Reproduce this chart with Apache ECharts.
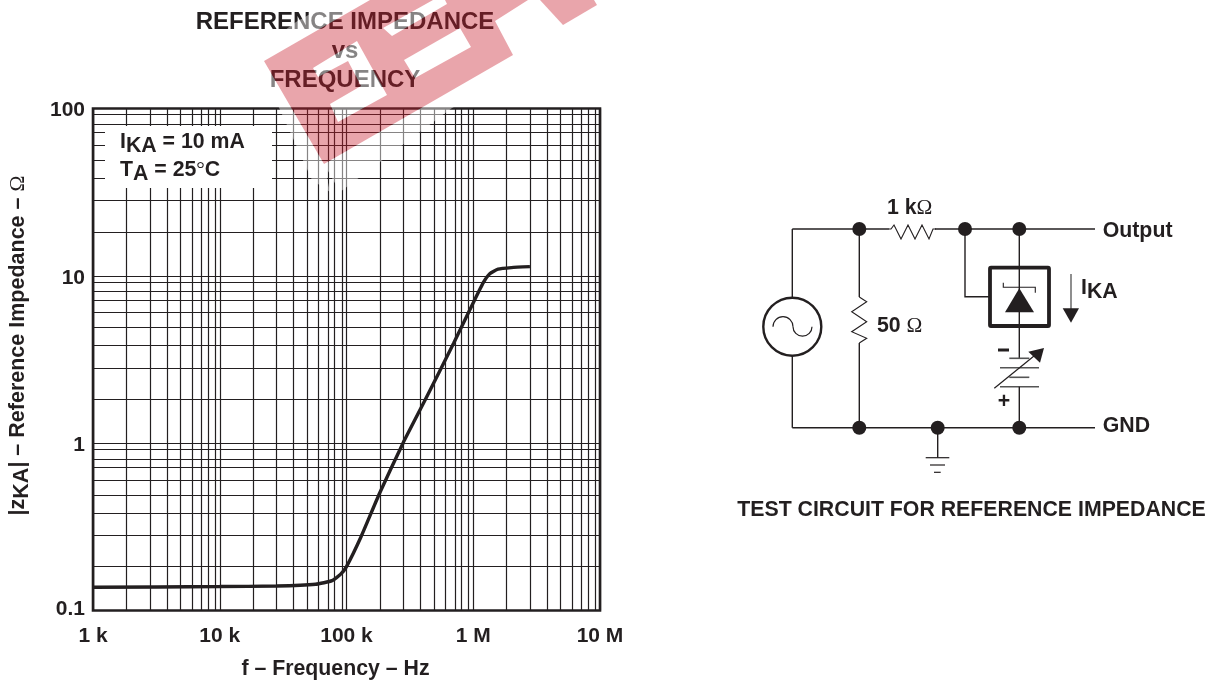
<!DOCTYPE html>
<html><head><meta charset="utf-8">
<style>html,body{margin:0;padding:0;background:#fff}#c{width:1214px;height:682px}</style>
<script src="https://cdn.jsdelivr.net/npm/echarts@6/dist/echarts.min.js"></script>
</head><body><div id="c"></div>
<script>
// ---- data ----
const frequencyHz = [1000,10000,28000,57000,77000,90000,100000,130000,182000,279000,417000,700000,1000000,1200000,1350000,1570000,2000000,2800000];
const impedanceOhm = [0.1376,0.139,0.14,0.1434,0.1507,0.165,0.183,0.275,0.5,1,1.81,3.95,6.9,9.1,10.3,10.96,11.2,11.35];
const xDecades = [1000,10000,100000,1000000];
const yDecades = [0.1,1,10];
const gridSteps = [1.83,2.81,3.83,4.9,6.02,7.17,8.06,9.2];
const xTickLabels = {1000:'1 k',10000:'10 k',100000:'100 k',1000000:'1 M',10000000:'10 M'};
const yTickLabels = {0.1:'{low|0.1}',1:'1',10:'10',100:'100'};
const titleLines = ['REFERENCE IMPEDANCE','vs','FREQUENCY'];

// ---- styling ----
const FONT = '"Liberation Sans", Arial, sans-serif';
const INK = '#231f20';
const minorX = xDecades.flatMap(d => gridSteps.map(s => ({xAxis: d*s})));
const minorY = yDecades.flatMap(d => gridSteps.map(s => ({yAxis: d*s})));

const SIZE = 21.3;
const txt = (x,y,text,o={}) => ({type:'text',x,y,z:o.z||20,style:Object.assign({
  text,fill:INK,font:`bold ${o.size||SIZE}px ${FONT}`,align:o.align||'left',verticalAlign:'middle'},o.style||{})});
const makeRich = size => ({
  b:{fontFamily:'Liberation Sans',fontWeight:'bold',fontSize:size,color:INK},
  s:{fontFamily:'Liberation Sans',fontWeight:'bold',fontSize:size,color:INK,verticalAlign:'bottom',padding:[8,0,0,0]},
  o:{fontFamily:'Liberation Serif',fontWeight:'normal',fontSize:size,color:INK}
});
const subRich = makeRich(SIZE);
const richTxt = (x,y,text,rich) => ({type:'text',x,y,z:20,style:{text,rich,align:'left',verticalAlign:'middle',fill:INK,font:`bold ${SIZE}px ${FONT}`}});
const W = 1.4;
const line = (a,b,c,d,w,col) => ({type:'line',z:20,shape:{x1:a,y1:b,x2:c,y2:d},style:{stroke:col||INK,lineWidth:w||W}});
const poly = (pts,w) => ({type:'polyline',z:20,shape:{points:pts},style:{stroke:INK,lineWidth:w||W,fill:null,lineJoin:'miter'}});
const tri = pts => ({type:'polygon',z:20,shape:{points:pts},style:{fill:INK,stroke:null}});
const dot = (x,y) => ({type:'circle',z:21,shape:{cx:x,cy:y,r:7},style:{fill:INK}});

const circuit = [
  line(792.3,229,1095,229), line(792.3,427.7,1095,427.7),
  line(792.3,229,792.3,297.7), line(792.3,355.7,792.3,427.7),
  {type:'circle',z:20,shape:{cx:792.3,cy:326.7,r:29},style:{fill:'#fff',stroke:INK,lineWidth:2.4}},
  {type:'arc',z:21,shape:{cx:783,cy:326.7,r:10,startAngle:Math.PI,endAngle:2*Math.PI,clockwise:true},style:{stroke:INK,lineWidth:1.2,fill:null}},
  {type:'arc',z:21,shape:{cx:802.5,cy:326.7,r:9.5,startAngle:0,endAngle:Math.PI,clockwise:true},style:{stroke:INK,lineWidth:1.2,fill:null}},
  // series resistor
  {type:'rect',z:20,shape:{x:889,y:222,width:46,height:18},style:{fill:'#fff'}},
  {type:'polyline',z:21,shape:{points:[[889,229],[891,229],[894,225],[901,239],[908,225],[915,239],[922,225],[929,239],[933,229],[936,229]]},style:{stroke:INK,lineWidth:1.1,fill:null}},
  // shunt resistor
  line(859.3,229,859.3,297), line(859.3,343,859.3,427.7),
  {type:'polyline',z:21,shape:{points:[[859.3,297],[866.7,301.7],[851.7,311.7],[866.7,321.7],[851.7,331.7],[866.7,338.3],[859.3,343]]},style:{stroke:INK,lineWidth:1.1,fill:null}},
  // reference pin
  poly([[965,229],[965,296.7],[990,296.7]]),
  // device
  line(1019.3,229,1019.3,358.3),
  {type:'rect',z:20,shape:{x:990,y:267.7,width:59,height:58.3,r:1},style:{fill:null,stroke:INK,lineWidth:3.8}},
  tri([[1019.3,288.3],[1034,312.3],[1005,312.3]]),
  poly([[1003.3,282.7],[1003.3,287.3],[1035.3,287.3],[1035.3,292.7]],1.1),
  // battery
  line(1009.3,358.3,1029.3,358.3,1.6,'#555'), line(1000,367.7,1039,367.7,1.6,'#555'),
  line(1009.3,377.3,1029.3,377.3,1.6,'#555'), line(1000,386.7,1039,386.7,1.6,'#555'),
  line(1019.3,386.7,1019.3,427.7),
  line(994.3,388.3,1034,356,1.2),
  tri([[1044,348],[1028.3,351.7],[1040,362.7]]),
  line(998,350,1009,350,3),
  txt(1004,402,'+',{size:SIZE,align:'center'}),
  // current arrow
  line(1071,274,1071,310,1.2,'#444'),
  tri([[1062.7,308.3],[1079,308.3],[1071,322.7]]),
  // ground
  line(937.7,427.7,937.7,457.7),
  line(925.7,457.7,949.3,457.7,1.2), line(930,465,945,465,1.2), line(934,472.3,940.7,472.3,1.2),
  ...[[859.3,229],[965,229],[1019.3,229],[859.3,427.7],[937.7,427.7],[1019.3,427.7]].map(p=>dot(p[0],p[1])),
  richTxt(887,208,'{b|1 k}{o|Ω}',subRich),
  richTxt(877,326,'{b|50 }{o|Ω}',subRich),
  txt(1102.7,231,'Output'),
  txt(1102.7,426,'GND'),
  richTxt(1081,288,'{b|I}{s|KA}',subRich),
  txt(971.5,510,'TEST CIRCUIT FOR REFERENCE IMPEDANCE',{align:'center'})
];

const legendBox = [
  {type:'rect',z:15,shape:{x:105,y:126,width:167,height:62},style:{fill:'#fff'}},
  richTxt(120,142,'{b|I}{s|KA}{b| = 10 mA}',subRich),
  richTxt(120,170,'{b|T}{s|A}{b| = 25}{o|°}{b|C}',subRich)
];

// watermark: translucent logo with a faint white halo around it
const RED = 'rgba(200,30,45,0.4)', HALO='rgba(255,255,255,0.45)', HOLE='rgba(255,255,255,0.45)';
const wm = (pts,fill) => ({type:'polygon',z:100,silent:true,shape:{points:pts},style:{fill}});
const watermark = [
  wm([[296,22],[335,0],[370,0],[264,61],[258,50]],HALO),
  wm([[255,55],[264,61],[324,164],[330,192],[312,180]],HALO),
  wm([[324,164],[513,55],[540,62],[452,108],[340,192]],HALO),
  wm([[313,68],[318,77],[348,61],[361,86],[330,104],[338,122],[387,95],[357,41]],HOLE),
  wm([[404,60],[415,78],[471,47],[460,28]],HOLE),
  wm([[383,28],[392,36],[447,4],[445,0],[433,0]],HOLE),
  wm([[264,61],[313,68],[318,77],[348,61],[361,86],[330,104],[338,122],[387,95],[357,41],[313,68],[264,61],
      [370,0],[433,0],[383,28],[392,36],[447,4],[445,0],[528,0],[495,21],[513,55],
      [471,47],[460,28],[404,60],[415,78],[471,47],[513,55],[324,164]],RED),
  wm([[540,0],[563,25],[597,5],[594,0]],RED)
];

const chart = echarts.init(document.getElementById('c'),null,{renderer:'canvas'});
chart.setOption({
  animation:false,
  backgroundColor:'#fff',
  textStyle:{fontFamily:FONT},
  title:{text:titleLines.join('\n'),left:340,top:3,textAlign:'center',
    textStyle:{fontFamily:FONT,fontWeight:'bold',fontSize:24,lineHeight:29,color:INK}},
  grid:{left:93,right:614,top:108.5,bottom:71.5,show:true,outerBoundsMode:'none',borderColor:INK,borderWidth:2.6,backgroundColor:'#fff'},
  xAxis:{type:'log',logBase:10,min:1000,max:10000000,
    axisLine:{show:false},axisTick:{show:false},
    axisLabel:{margin:15,color:INK,fontSize:21,fontWeight:'bold',fontFamily:FONT,showMinLabel:true,showMaxLabel:true,
      formatter:v=>xTickLabels[Math.round(v)]||''},
    splitLine:{show:true,lineStyle:{color:INK,width:1.2}},minorSplitLine:{show:false},
    name:'f – Frequency – Hz',nameLocation:'middle',nameGap:48,
    nameTextStyle:{color:INK,fontSize:21.3,fontWeight:'bold',fontFamily:FONT,padding:[0,22,0,0]}},
  yAxis:{type:'log',logBase:10,min:0.1,max:100,
    axisLine:{show:false},axisTick:{show:false},
    axisLabel:{margin:8,color:INK,fontSize:21,fontWeight:'bold',fontFamily:FONT,showMinLabel:true,showMaxLabel:true,padding:[4,0,0,0],
      rich:{low:{fontSize:21,fontWeight:'bold',fontFamily:FONT,color:INK,padding:[0,0,6,0]}},
      formatter:v=>yTickLabels[String(+v.toPrecision(3))]||''},
    splitLine:{show:true,lineStyle:{color:INK,width:1.2}},minorSplitLine:{show:false},
    name:'{b||z}{s|KA}{b|| – Reference Impedance – }{o|Ω}',nameLocation:'middle',nameGap:60,nameRotate:90,
    nameTextStyle:{padding:[0,0,0,28],rich:makeRich(21.5)}},
  series:[{type:'line',data:frequencyHz.map((f,i)=>[f,impedanceOhm[i]]),
    showSymbol:false,smooth:0.15,lineStyle:{color:INK,width:3.4},z:5,silent:true,
    markLine:{silent:true,symbol:'none',label:{show:false},animation:false,precision:6,
      lineStyle:{color:INK,width:1.2,type:'solid'},
      data:[...minorX,...minorY]}}],
  graphic:{elements:[...legendBox,...circuit,...watermark]}
});
</script></body></html>
